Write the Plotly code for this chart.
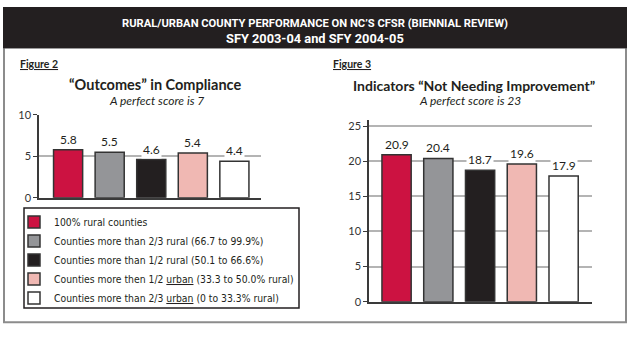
import plotly.graph_objects as go

# ---- data -------------------------------------------------------------
groups = [
    "100% rural counties",
    "Counties more than 2/3 rural (66.7 to 99.9%)",
    "Counties more than 1/2 rural (50.1 to 66.6%)",
    "Counties more then 1/2 <u>urban</u> (33.3 to 50.0% rural)",
    "Counties more than 2/3 <u>urban</u> (0 to 33.3% rural)",
]
outcomes_in_compliance = [5.8, 5.5, 4.6, 5.4, 4.4]
indicators_not_needing_improvement = [20.9, 20.4, 18.7, 19.6, 17.9]
group_colors = ["#CC1241", "#949598", "#231F20", "#F0B8B3", "#FFFFFF"]
fig2_ticks = [0, 5, 10]
fig3_ticks = [0, 5, 10, 15, 20, 25]

# ---- page geometry helpers (pixel -> paper) ---------------------------
W, H = 630, 337


def px(x):
    return x / W


def py(y):
    return 1 - y / H


INK = "#231F20"
GRID = "#B4B4B4"
NUM_FONT = "Lato, 'Open Sans', sans-serif"
LEG_FONT = "'DejaVu Sans Condensed', Roboto, sans-serif"
HEAD_FONT = "Roboto, Lato, sans-serif"

fig = go.Figure()

keys = [f"g{i}" for i in range(len(groups))]
for i, (name, key, color) in enumerate(zip(groups, keys, group_colors)):
    common = dict(
        name=name,
        legendgroup=key,
        marker=dict(color=color, line=dict(color="#333333", width=1.5)),
        width=0.7,
        hoverinfo="skip",
    )
    fig.add_trace(go.Bar(x=[key], y=[outcomes_in_compliance[i]],
                         xaxis="x", yaxis="y", showlegend=True, **common))
    fig.add_trace(go.Bar(x=[key], y=[indicators_not_needing_improvement[i]],
                         xaxis="x2", yaxis="y2", showlegend=False, **common))

# value labels on white chips so the gridlines break around them
annotations = []
for key, v in zip(keys, outcomes_in_compliance):
    annotations.append(dict(x=key, y=v, xref="x", yref="y", text=f"{v:.1f}",
                            showarrow=False, xanchor="center",
                            yanchor="bottom", yshift=1,
                            bgcolor="white", borderpad=1,
                            font=dict(family=NUM_FONT, size=12, color=INK)))
for key, v in zip(keys, indicators_not_needing_improvement):
    annotations.append(dict(x=key, y=v, xref="x2", yref="y2", text=f"{v:.1f}",
                            showarrow=False, xanchor="center",
                            yanchor="bottom", yshift=1,
                            bgcolor="white", borderpad=1,
                            font=dict(family=NUM_FONT, size=12, color=INK)))


def label(x, y, text, family, size, color=INK, anchor="center"):
    return dict(x=px(x), y=py(y), xref="paper", yref="paper", showarrow=False,
                xanchor=anchor, yanchor="middle", text=text,
                font=dict(family=family, size=size, color=color))


# headings
annotations += [
    label(315, 17, "<b>RURAL/URBAN COUNTY PERFORMANCE ON NC’S CFSR (BIENNIAL REVIEW)</b>",
          HEAD_FONT, 11.2, "white"),
    label(315, 33, "<b>SFY 2003-04 and SFY 2004-05</b>", HEAD_FONT, 12.8, "white"),
    label(18, 59, "<b><u>Figure 2</u></b>", NUM_FONT, 10.5, anchor="left"),
    label(331, 59, "<b><u>Figure 3</u></b>", NUM_FONT, 10.5, anchor="left"),
    label(155, 81, "<b>“Outcomes” in Compliance</b>", NUM_FONT, 14.5),
    label(156, 97, "<i>A perfect score is 7</i>", NUM_FONT, 12),
    label(474, 82, "<b>Indicators “Not Needing Improvement”</b>", NUM_FONT, 14),
    label(470, 97, "<i>A perfect score is 23</i>", NUM_FONT, 12),
]

shapes = [
    # outer frame
    dict(type="rect", xref="paper", yref="paper", x0=px(4), x1=px(626),
         y0=py(328), y1=py(42), line=dict(color="#8C8C8C", width=2),
         layer="below"),
    # dark heading band
    dict(type="rect", xref="paper", yref="paper", x0=px(3), x1=px(627),
         y0=py(43), y1=1, fillcolor=INK, line=dict(width=0), layer="below"),
    # legend box
    dict(type="rect", xref="paper", yref="paper", x0=px(24), x1=px(299),
         y0=py(313), y1=py(209), line=dict(color=INK, width=1.5),
         layer="below"),
]

xaxis_common = dict(type="category", categoryorder="array", categoryarray=keys,
                    showticklabels=False, ticks="", showgrid=False,
                    showline=True, linecolor="#3A3A3A", linewidth=1.5,
                    zeroline=False, fixedrange=True)
yaxis_common = dict(showline=True, linecolor="#3A3A3A", linewidth=1.5,
                    ticks="outside", ticklen=4, tickcolor="#3A3A3A",
                    tickwidth=1.2, showgrid=True, gridcolor=GRID,
                    gridwidth=1.5, zeroline=False,
                    tickfont=dict(family=NUM_FONT, size=11, color="#333333"),
                    fixedrange=True)

fig.update_layout(
    width=W, height=H,
    margin=dict(l=0, r=0, t=0, b=0),
    paper_bgcolor="white", plot_bgcolor="white",
    barmode="overlay",
    showlegend=True,
    xaxis=dict(domain=[px(39), px(261)], range=[-0.70, 4.64], anchor="y",
               **xaxis_common),
    yaxis=dict(domain=[py(198.3), py(112.3)], range=[0, 10],
               tickvals=fig2_ticks, anchor="x", **yaxis_common),
    xaxis2=dict(domain=[px(369), px(592)], range=[-0.66, 4.68], anchor="y2",
                **xaxis_common),
    yaxis2=dict(domain=[py(306.5), py(118)], range=[0, 25.8],
                tickvals=fig3_ticks, anchor="x2", **yaxis_common),
    legend=dict(x=px(14), y=py(208.5), xanchor="left", yanchor="top",
                bgcolor="rgba(0,0,0,0)", borderwidth=0, tracegroupgap=0,
                font=dict(family=LEG_FONT, size=10.3, color=INK)),
    annotations=annotations,
    shapes=shapes,
)

fig.write_html("out.html")
